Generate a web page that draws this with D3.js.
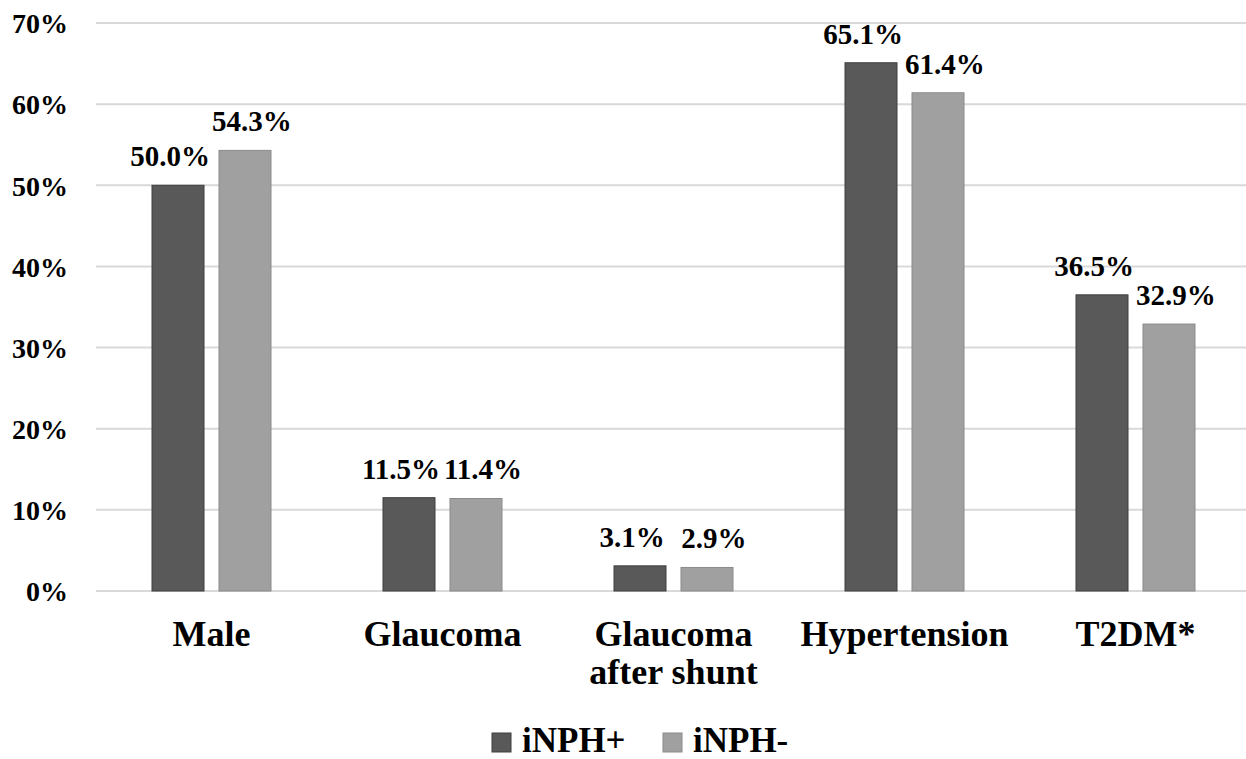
<!DOCTYPE html>
<html>
<head>
<meta charset="utf-8">
<script src="https://cdn.jsdelivr.net/npm/d3@7"></script>
<style>
  html, body { margin: 0; padding: 0; background: #fff; }
  svg { display: block; }
  text { font-family: "Liberation Serif", "Times New Roman", serif; font-weight: bold; fill: #000; }
</style>
</head>
<body>
<svg id="chart" width="1246" height="759"></svg>
<script>
const categories = [["Male"], ["Glaucoma"], ["Glaucoma", "after shunt"], ["Hypertension"], ["T2DM*"]];
const series = ["iNPH+", "iNPH-"];
const inphPos = [50.0, 11.5, 3.1, 65.1, 36.5];
const inphNeg = [54.3, 11.4, 2.9, 61.4, 32.9];
const yTicks = [0, 10, 20, 30, 40, 50, 60, 70];
const colors = ["#595959", "#a0a0a0"];
const strokes = ["#3e3e3e", "#8a8a8a"];
const labelNudge = [-8, 7]; // label horizontal shift per series (styling)

const values = [inphPos, inphNeg];
const svg = d3.select("#chart");

const catKeys = categories.map(c => c.join(" "));
const x = d3.scaleBand().domain(catKeys).range([96, 1251]).paddingInner(0).paddingOuter(0);
const xs = d3.scaleBand().domain(series).range([0, x.bandwidth()]).paddingInner(0.2239).paddingOuter(0.836);
const y = d3.scaleLinear().domain([0, 70]).range([591, 23]);

// gridlines
svg.append("g").selectAll("line").data(yTicks).join("line")
  .attr("x1", 96).attr("x2", 1246)
  .attr("y1", d => y(d)).attr("y2", d => y(d))
  .attr("stroke", "#d9d9d9").attr("stroke-width", 2);

// y axis labels via d3 axis
const yAxis = d3.axisLeft(y).tickValues(yTicks).tickFormat(d => d + "%").tickSize(0).tickPadding(0);
const yg = svg.append("g").attr("transform", "translate(68,0)").call(yAxis);
yg.select(".domain").remove();
yg.selectAll("text").attr("font-size", 28).attr("font-family", "Liberation Serif, Times New Roman, serif")
  .attr("font-weight", "bold").attr("fill", "#000").attr("dy", "0.35em");

// bars
const rows = [];
catKeys.forEach((c, i) => series.forEach((s, j) => rows.push({ c, s, j, v: values[j][i] })));

svg.append("g").selectAll("rect").data(rows).join("rect")
  .attr("x", d => x(d.c) + xs(d.s))
  .attr("width", xs.bandwidth())
  .attr("y", d => y(d.v))
  .attr("height", d => y(0) - y(d.v))
  .attr("fill", d => colors[d.j])
  .attr("stroke", d => strokes[d.j]).attr("stroke-width", 1);

// value labels
svg.append("g").selectAll("text").data(rows).join("text")
  .attr("x", d => x(d.c) + xs(d.s) + xs.bandwidth() / 2 + labelNudge[d.j])
  .attr("y", d => y(d.v) - 19)
  .attr("text-anchor", "middle")
  .attr("font-size", 29)
  .text(d => d.v.toFixed(1) + "%");

// category labels
const xAxis = d3.axisBottom(x).tickSize(0).tickFormat(() => "");
const xg = svg.append("g").attr("transform", "translate(0,591)").call(xAxis);
xg.select(".domain").remove();
xg.selectAll(".tick").each(function(d, i) {
  const t = d3.select(this).append("text")
    .attr("text-anchor", "middle").attr("font-size", 36).attr("fill", "#000")
    .attr("font-family", "Liberation Serif, Times New Roman, serif").attr("font-weight", "bold");
  categories[i].forEach((line, k) => {
    t.append("tspan").attr("x", 0).attr("y", 55 + k * 38).text(line);
  });
});

// legend
const legend = svg.append("g");
const legendX = [492, 663];
series.forEach((s, j) => {
  legend.append("rect").attr("x", legendX[j]).attr("y", 733).attr("width", 19).attr("height", 19)
    .attr("fill", colors[j]).attr("stroke", strokes[j]).attr("stroke-width", 1);
  legend.append("text").attr("x", legendX[j] + 30).attr("y", 752).attr("font-size", 35).text(s);
});
</script>
</body>
</html>
